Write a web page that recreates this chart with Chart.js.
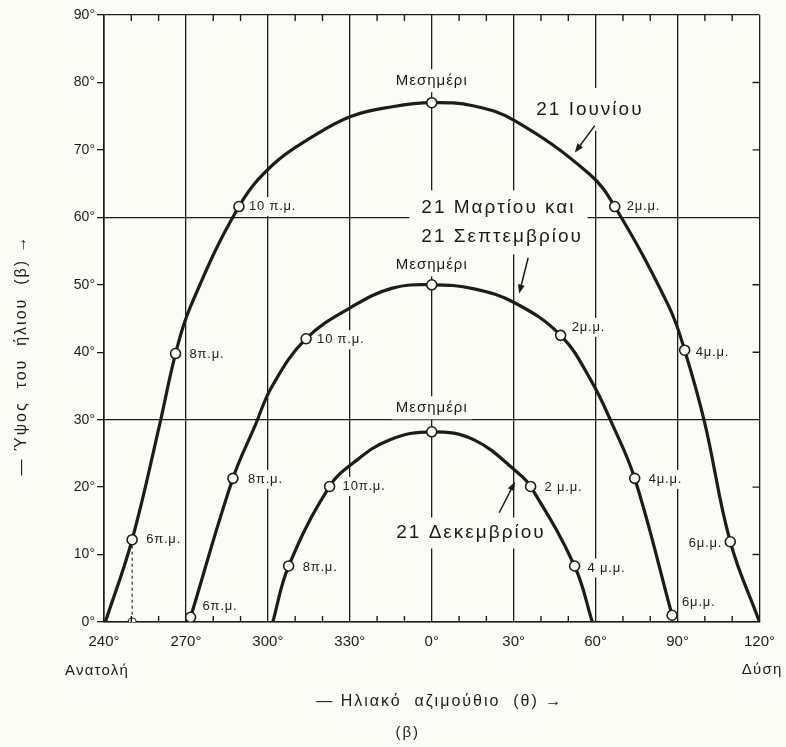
<!DOCTYPE html>
<html><head><meta charset="utf-8">
<script src="https://cdn.jsdelivr.net/npm/chart.js@4.4.1/dist/chart.umd.min.js"></script>
<style>
html,body{margin:0;padding:0;background:#fcfcf6;}
#wrap{width:786px;height:747px;position:relative;}
</style>
</head><body>
<div id="wrap"><canvas id="c"></canvas></div>
<script>
// ---------- DATA ----------
const xTickValues = [-120, -90, -60, -30, 0, 30, 60, 90, 120];
const xTickLabels = ['240°', '270°', '300°', '330°', '0°', '30°', '60°', '90°', '120°'];
const yTickValues = [0, 10, 20, 30, 40, 50, 60, 70, 80, 90];
const yGridValues = [0, 30, 60, 90];

// 21 June
const junAz    = [-119.5, -109.7, -99.5, -93.8, -88.3, -70.6, -58.2, -43.5, -29.4, -14.4, 0, 15.5, 30.5, 57.5, 67.0, 86.8, 92.6, 99.9, 109.3, 120];
const junAlt   = [0, 12.2, 29.5, 39.8, 46.8, 61.6, 67.8, 72.0, 75.0, 76.4, 77.0, 76.5, 74.3, 66.5, 61.6, 46.8, 40.3, 29.6, 11.9, 0];
const junHours = ['', '6π.μ.', '', '8π.μ.', '', '10 π.μ.', '', '', '', '', 'Μεσημέρι', '', '', '', '2μ.μ.', '', '4μ.μ.', '', '6μ.μ.', ''];

// 21 March / 21 September
const marAz    = [-88.3, -72.8, -64.8, -58.4, -46.0, -29.4, -14.4, 0, 15.5, 30.5, 47.2, 58.2, 65.8, 74.3, 88.0];
const marAlt   = [0.7, 21.3, 29.0, 35.0, 42.0, 46.7, 49.5, 50.0, 49.4, 47.3, 42.5, 35.9, 29.6, 21.3, 1.0];
const marHours = ['6π.μ.', '8π.μ.', '', '', '10 π.μ.', '', '', 'Μεσημέρι', '', '', '2μ.μ.', '', '', '4μ.μ.', '6μ.μ.'];

// 21 December
const decAz    = [-58.2, -52.4, -37.4, -28.7, -15.5, 0, 15.5, 31.6, 36.2, 52.3, 58.8];
const decAlt   = [0, 8.3, 20.1, 23.6, 27.0, 28.2, 27.0, 22.1, 20.1, 8.3, 0];
const decHours = ['', '8π.μ.', '10π.μ.', '', '', 'Μεσημέρι', '', '', '2 μ.μ.', '4 μ.μ.', ''];

const seriesNames = ['21 Ιουνίου', '21 Μαρτίου και 21 Σεπτεμβρίου', '21 Δεκεμβρίου'];

// ---------- STYLE / LAYOUT ----------
const BG = '#fcfcf6';
const INK = '#1c1c1c';
const FONT = '"Liberation Sans", Arial, Helvetica, sans-serif';

const hourPlacement = {
  jun: {'6π.μ.':[14,0,'left'], '8π.μ.':[14,1,'left'], '10 π.μ.':[10,0,'left'], 'Μεσημέρι':[0,-22,'center'],
        '2μ.μ.':[12,0,'left'], '4μ.μ.':[11,2,'left'], '6μ.μ.':[-8,2,'right']},
  mar: {'6π.μ.':[12,-11,'left'], '8π.μ.':[15,1,'left'], '10 π.μ.':[11,1,'left'], 'Μεσημέρι':[0,-20,'center'],
        '2μ.μ.':[11,-8,'left'], '4μ.μ.':[14,1,'left'], '6μ.μ.':[10,-13,'left']},
  dec: {'8π.μ.':[14,1,'left'], '10π.μ.':[13,0,'left'], 'Μεσημέρι':[0,-24,'center'],
        '2 μ.μ.':[14,1,'left'], '4 μ.μ.':[13,2,'left']}
};

// annotation text blocks: [text, az, alt, align, padX, padY]
const noteTexts = [
  ['21 Ιουνίου', 57.9, 76.0, 'center', 10, 12],
  ['21 Μαρτίου και', -3.8, 61.4, 'left', 12, 8],
  ['21 Σεπτεμβρίου', -3.8, 57.1, 'left', 12, 8],
  ['21 Δεκεμβρίου', -13.0, 13.2, 'left', 6, 6]
];
// arrows: [fromAz, fromAlt, toAz, toAlt]
const noteArrows = [
  [59.7, 73.6, 52.4, 69.6],
  [35.3, 54.0, 32.0, 48.7],
  [24.7, 16.2, 30.5, 20.8]
];

const seriesList = [
  {key:'jun', az:junAz, alt:junAlt, hours:junHours},
  {key:'mar', az:marAz, alt:marAlt, hours:marHours},
  {key:'dec', az:decAz, alt:decAlt, hours:decHours}
];

function pts(az, alt){ return az.map((x, i) => ({x: x, y: alt[i]})); }

function curveDataset(s, name){
  return {
    label: name,
    data: pts(s.az, s.alt),
    showLine: true,
    borderColor: INK,
    borderWidth: 3.2,
    tension: 0.4,
    pointRadius: ctx => s.hours[ctx.dataIndex] ? 5 : 0,
    pointHoverRadius: ctx => s.hours[ctx.dataIndex] ? 5 : 0,
    pointBackgroundColor: BG,
    pointBorderColor: INK,
    pointBorderWidth: 1.6
  };
}

const dropIdx = junHours.indexOf('6π.μ.');
const dropLine = {
  label: 'drop',
  data: [{x: junAz[dropIdx], y: junAlt[dropIdx]}, {x: junAz[dropIdx], y: 0}],
  showLine: true,
  borderColor: INK,
  borderWidth: 1.1,
  borderDash: [3, 3],
  tension: 0,
  pointRadius: [0, 4],
  pointBackgroundColor: BG,
  pointBorderColor: INK,
  pointBorderWidth: 1.2
};

function measureBox(ctx, it){
  ctx.font = it.font;
  ctx.letterSpacing = it.spacing || '0px';
  const w = ctx.measureText(it.text).width;
  const h = it.size;
  let x0 = it.x;
  if (it.align === 'right') x0 = it.x - w;
  else if (it.align === 'center') x0 = it.x - w / 2;
  return {x0: x0, y0: it.y - h / 2, w: w, h: h};
}

function allItems(chart){
  const items = [];
  const xs = chart.scales.x, ys = chart.scales.y;
  seriesList.forEach((s, di) => {
    const meta = chart.getDatasetMeta(di);
    s.hours.forEach((h, i) => {
      if (!h) return;
      const el = meta.data[i];
      const p = hourPlacement[s.key][h] || [12, 0, 'left'];
      const noon = h === 'Μεσημέρι';
      items.push({text: h, x: el.x + p[0], y: el.y + p[1], align: p[2],
        size: noon ? 15 : 13, font: (noon ? '15px ' : '13px ') + FONT,
        spacing: noon ? '1px' : '0.8px', padX: noon ? 4 : 2, padY: noon ? 4 : 3});
    });
  });
  noteTexts.forEach(n => {
    items.push({text: n[0], x: xs.getPixelForValue(n[1]), y: ys.getPixelForValue(n[2]), align: n[3],
      size: 19, font: '19px ' + FONT, spacing: '2px', padX: n[4], padY: n[5]});
  });
  return items;
}

const decorPlugin = {
  id: 'decor',
  beforeDraw(chart){
    const ctx = chart.ctx;
    ctx.save();
    ctx.fillStyle = BG;
    ctx.fillRect(0, 0, chart.width, chart.height);
    ctx.restore();
  },
  beforeDatasetsDraw(chart){
    const ctx = chart.ctx;
    ctx.save();
    ctx.fillStyle = BG;
    allItems(chart).forEach(it => {
      const b = measureBox(ctx, it);
      ctx.fillRect(b.x0 - it.padX, b.y0 - it.padY, b.w + 2 * it.padX, b.h + 2 * it.padY);
    });
    ctx.restore();
  },
  afterDatasetsDraw(chart){
    const ctx = chart.ctx;
    const xs = chart.scales.x, ys = chart.scales.y;
    const a = chart.chartArea;
    ctx.save();
    // inward minor ticks
    ctx.strokeStyle = INK;
    ctx.lineWidth = 1.4;
    ctx.beginPath();
    for (let v = -120; v <= 120; v += 10) {
      if (v % 30 === 0) continue;
      const px = xs.getPixelForValue(v);
      ctx.moveTo(px, a.top); ctx.lineTo(px, a.top + 6);
      ctx.moveTo(px, a.bottom); ctx.lineTo(px, a.bottom - 6);
    }
    yTickValues.forEach(v => {
      if (v % 30 === 0) return;
      const py = ys.getPixelForValue(v);
      ctx.moveTo(a.right, py); ctx.lineTo(a.right - 7, py);
    });
    ctx.stroke();
    // texts
    ctx.fillStyle = INK;
    ctx.textBaseline = 'middle';
    allItems(chart).forEach(it => {
      ctx.font = it.font;
      ctx.letterSpacing = it.spacing;
      ctx.textAlign = it.align;
      ctx.fillText(it.text, it.x, it.y);
    });
    ctx.letterSpacing = '0px';
    // arrows
    ctx.lineWidth = 1.5;
    noteArrows.forEach(r => {
      const x1 = xs.getPixelForValue(r[0]), y1 = ys.getPixelForValue(r[1]);
      const x2 = xs.getPixelForValue(r[2]), y2 = ys.getPixelForValue(r[3]);
      const ang = Math.atan2(y2 - y1, x2 - x1);
      ctx.beginPath();
      ctx.moveTo(x1, y1); ctx.lineTo(x2 - 6 * Math.cos(ang), y2 - 6 * Math.sin(ang));
      ctx.stroke();
      ctx.beginPath();
      ctx.moveTo(x2, y2);
      ctx.lineTo(x2 - 9 * Math.cos(ang) + 3.5 * Math.sin(ang), y2 - 9 * Math.sin(ang) - 3.5 * Math.cos(ang));
      ctx.lineTo(x2 - 9 * Math.cos(ang) - 3.5 * Math.sin(ang), y2 - 9 * Math.sin(ang) + 3.5 * Math.cos(ang));
      ctx.closePath();
      ctx.fill();
    });
    ctx.restore();
  },
  afterDraw(chart){
    const ctx = chart.ctx;
    const a = chart.chartArea;
    ctx.save();
    ctx.fillStyle = INK;
    ctx.textBaseline = 'middle';
    ctx.font = '15px ' + FONT;
    ctx.letterSpacing = '1.2px';
    ctx.textAlign = 'left';
    ctx.fillText('Ανατολή', a.left - 39, a.bottom + 49);
    ctx.textAlign = 'right';
    ctx.fillText('Δύση', a.right + 23, a.bottom + 48);
    // x title
    ctx.font = '16px ' + FONT;
    ctx.letterSpacing = '2px';
    ctx.textAlign = 'center';
    ctx.fillText('— Ηλιακό  αζιμούθιο  (θ) →', (a.left + a.right) / 2 + 8, a.bottom + 80);
    ctx.font = '15px ' + FONT;
    ctx.fillText('(β)', (a.left + a.right) / 2 - 24, a.bottom + 111);
    // y title
    ctx.translate(a.left - 82, a.top + 340);
    ctx.rotate(-Math.PI / 2);
    ctx.font = '16px ' + FONT;
    ctx.letterSpacing = '2px';
    ctx.fillText('— Ύψος  του  ήλιου  (β) →', 0, 0);
    ctx.restore();
  }
};

new Chart(document.getElementById('c'), {
  type: 'scatter',
  data: {
    datasets: [
      curveDataset(seriesList[0], seriesNames[0]),
      curveDataset(seriesList[1], seriesNames[1]),
      curveDataset(seriesList[2], seriesNames[2]),
      dropLine
    ]
  },
  options: {
    responsive: true,
    maintainAspectRatio: false,
    animation: false,
    events: [],
    layout: {padding: {left: 0, right: 25, top: 15, bottom: 0}},
    plugins: {legend: {display: false}, tooltip: {enabled: false}},
    scales: {
      x: {
        type: 'linear', min: -120, max: 120,
        afterBuildTicks: s => { s.ticks = xTickValues.map(v => ({value: v})); },
        afterFit: s => { s.height = 125; },
        ticks: {
          callback: v => xTickLabels[xTickValues.indexOf(v)],
          font: {family: FONT, size: 15}, color: INK, padding: 11, maxRotation: 0, autoSkip: false
        },
        grid: {color: INK, lineWidth: 1.3, drawTicks: false},
        border: {color: INK, width: 1.6}
      },
      y: {
        type: 'linear', min: 0, max: 90,
        afterBuildTicks: s => { s.ticks = yTickValues.map(v => ({value: v})); },
        afterFit: s => { s.width = 104; },
        ticks: {
          callback: v => v + '°',
          font: {family: FONT, size: 14}, color: INK, padding: 2
        },
        grid: {
          color: ctx => (ctx.tick && yGridValues.includes(ctx.tick.value)) ? INK : 'rgba(0,0,0,0)',
          tickColor: INK, tickLength: 7, lineWidth: 1.3
        },
        border: {color: INK, width: 1.6}
      }
    }
  },
  plugins: [decorPlugin]
});
</script>
</body></html>
